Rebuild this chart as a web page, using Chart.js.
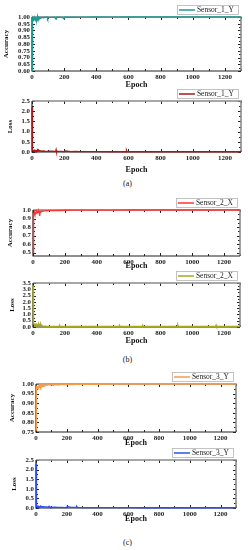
<!DOCTYPE html>
<html>
<head>
<meta charset="utf-8">
<script src="https://cdn.jsdelivr.net/npm/chart.js@4.4.0/dist/chart.umd.min.js"></script>
<style>
body { margin: 0; background: #fff; width: 248px; height: 550px; position: relative; overflow: hidden; }
canvas { position: absolute; left: 0; }
.cap { position: absolute; left: 0; width: 255px; text-align: center; font: 8px "Liberation Serif", serif; line-height: 10px; color: #111; }
</style>
</head>
<body>
<canvas id="a1"></canvas>
<canvas id="a2"></canvas>
<div class="cap" style="top:179px">(a)</div>
<canvas id="b1"></canvas>
<canvas id="b2"></canvas>
<div class="cap" style="top:355px">(b)</div>
<canvas id="c1"></canvas>
<canvas id="c2"></canvas>
<div class="cap" style="top:538px">(c)</div>
<script>
// shared x axis
const xTicks = [0, 200, 400, 600, 800, 1000, 1200];

// (a) Sensor_1_Y
const a1Epoch = [0, 1, 2, 3, 4, 5, 6, 7, 9, 11, 13, 15, 17, 19, 21, 23, 25, 27, 29, 31, 33, 35, 37, 40, 43, 46, 50, 55, 60, 70, 80, 95, 97, 100, 120, 140, 150, 152, 170, 190, 200, 202, 215, 240, 270, 300, 350, 400, 500, 600, 700, 800, 900, 1000, 1100, 1200, 1300];
const a1Acc = [0.60, 0.88, 0.95, 0.975, 0.985, 0.975, 0.99, 0.98,
    0.99, 0.985, 0.995, 0.975, 0.99, 0.995,
    0.985, 0.995, 0.97, 0.99, 0.995,
    0.975, 0.995, 0.985, 0.997,
    0.98, 0.995, 0.99, 0.997,
    0.993, 0.998, 0.995, 0.998,
    0.998, 0.99, 0.998,
    0.997, 0.998, 0.985, 0.998,
    0.998, 0.997, 0.987, 0.998,
    0.998, 0.999, 0.998, 0.999,
    0.999, 1.0, 0.999, 1.0,
    1.0, 1.0, 1.0, 1.0,
    1.0, 1.0, 1.0];
const a1Ticks = [0.60, 0.65, 0.70, 0.75, 0.80, 0.85, 0.90, 0.95, 1.00];

const a2Epoch = [0, 1, 2, 3, 4, 5, 7, 9, 12, 15, 18, 21, 24, 27, 30, 33, 35, 37, 40, 45, 50, 60, 70, 80, 100, 120, 148, 150, 152, 180, 200, 210, 240, 270, 300, 400, 500, 585, 588, 591, 700, 800, 900, 1000, 1100, 1200, 1300];
const a2Loss = [2.2, 1.0, 0.4, 0.18, 0.12, 0.1,
    0.07, 0.09, 0.05, 0.08,
    0.05, 0.07, 0.04, 0.06,
    0.05, 0.08, 0.16, 0.06,
    0.1, 0.05, 0.06, 0.04,
    0.05, 0.04, 0.03, 0.04,
    0.03, 0.1, 0.03, 0.03,
    0.02, 0.05, 0.02, 0.03,
    0.02, 0.02, 0.01, 0.01,
    0.07, 0.01, 0.01, 0.01,
    0.01, 0.01, 0.01, 0.01, 0.01];
const a2Ticks = [0, 0.5, 1.0, 1.5, 2.0, 2.5];

// (b) Sensor_2_X
const b1Epoch = [0, 1, 2, 3, 4, 5, 6, 8, 10, 12, 14, 16, 18, 20, 22, 25, 28, 31, 34, 37, 40, 42, 44, 47, 50, 55, 60, 70, 80, 90, 100, 120, 140, 160, 180, 200, 250, 300, 400, 500, 600, 700, 800, 900, 1000, 1100, 1200, 1300];
const b1Acc = [0.5, 0.82, 0.9, 0.95, 0.94, 0.96, 0.955,
    0.965, 0.95, 0.97, 0.96,
    0.975, 0.965, 0.98, 0.97,
    0.985, 0.97, 0.98, 0.975,
    0.985, 0.97, 0.93, 0.98,
    0.99, 0.975, 0.99, 0.985,
    0.99, 0.993, 0.99, 0.995,
    0.993, 0.995, 0.996, 0.995,
    0.997, 0.998, 0.998, 0.999,
    0.999, 1.0, 1.0, 1.0,
    1.0, 1.0, 1.0, 1.0, 1.0];
const b1Ticks = [0.5, 0.6, 0.7, 0.8, 0.9, 1.0];

const b2Epoch = [0, 1, 2, 3, 4, 5, 7, 9, 11, 13, 15, 18, 21, 24, 27, 30, 33, 36, 39, 42, 45, 48, 52, 56, 60, 70, 80, 100, 130, 165, 168, 171, 200, 300, 400, 541, 544, 547, 600, 687, 690, 693, 740, 800, 907, 910, 913, 1000, 1100, 1147, 1150, 1153, 1200, 1300];
const b2Loss = [3.3, 1.5, 0.6, 0.35, 0.25, 0.3,
    0.2, 0.25, 0.15, 0.22,
    0.15, 0.2, 0.12, 0.18,
    0.13, 0.16, 0.12, 0.2,
    0.1, 0.15, 0.1, 0.22,
    0.09, 0.12, 0.08, 0.07,
    0.06, 0.05, 0.05, 0.05,
    0.11, 0.05, 0.04, 0.04,
    0.04, 0.04, 0.1, 0.04,
    0.04, 0.04, 0.1, 0.04,
    0.04, 0.04, 0.04, 0.14,
    0.04, 0.04, 0.04, 0.04,
    0.14, 0.04, 0.04, 0.04];
const b2Ticks = [0, 0.5, 1.0, 1.5, 2.0, 2.5, 3.0, 3.5];

// (c) Sensor_3_Y
const c1Epoch = [0, 1, 2, 3, 4, 5, 7, 9, 11, 13, 15, 17, 20, 23, 26, 30, 34, 38, 42, 46, 50, 55, 60, 70, 80, 90, 100, 110, 130, 150, 170, 200, 202, 230, 260, 290, 300, 350, 400, 500, 600, 700, 800, 900, 1000, 1100, 1200, 1300];
const c1Acc = [0.76, 0.93, 0.97, 0.98, 0.975, 0.985,
    0.98, 0.99, 0.985, 0.975,
    0.99, 0.985, 0.992, 0.98,
    0.993, 0.985, 0.995, 0.99,
    0.995, 0.988, 0.996, 0.99,
    0.996, 0.993, 0.997, 0.995,
    0.997, 0.993, 0.997, 0.996,
    0.998, 0.996, 0.998, 0.997,
    0.998, 0.998, 0.999, 0.999,
    0.999, 1.0, 1.0, 1.0,
    1.0, 1.0, 1.0, 1.0,
    1.0, 1.0];
const c1Ticks = [0.75, 0.80, 0.85, 0.90, 0.95, 1.00];

const c2Epoch = [0, 1, 2, 3, 4, 5, 8, 11, 14, 17, 20, 25, 30, 35, 40, 45, 50, 55, 60, 70, 80, 85, 90, 100, 120, 140, 160, 200, 203, 230, 260, 265, 270, 300, 400, 500, 600, 700, 800, 900, 1000, 1100, 1200, 1300];
const c2Loss = [2.3, 0.8, 0.25, 0.12, 0.1, 0.08,
    0.1, 0.07, 0.09, 0.06,
    0.08, 0.06, 0.1, 0.05,
    0.08, 0.06, 0.07, 0.05,
    0.06, 0.05, 0.04, 0.09,
    0.04, 0.03, 0.04, 0.03,
    0.03, 0.02, 0.07, 0.03,
    0.03, 0.08, 0.03, 0.02,
    0.02, 0.02, 0.02, 0.01,
    0.01, 0.01, 0.01, 0.01,
    0.01, 0.01];
const c2Ticks = [0, 0.5, 1.0, 1.5, 2.0, 2.5];

const serif = "'Liberation Serif', 'DejaVu Serif', serif";

// box round the plot, inward ticks on all four sides
const frameTicks = {
    id: "frameTicks",
    beforeDatasetsDraw(chart) {
        const { ctx, chartArea: a, scales } = chart;
        ctx.save();
        ctx.strokeStyle = "#222";
        ctx.lineWidth = 1;
        ctx.beginPath();
        for (let v = 0; v <= 1300; v += 100) {
            const px = Math.round(scales.x.getPixelForValue(v)) + 0.5;
            const len = v % 200 === 0 ? 3 : 2;
            ctx.moveTo(px, a.bottom); ctx.lineTo(px, a.bottom - len);
            ctx.moveTo(px, a.top); ctx.lineTo(px, a.top + len);
        }
        const yt = scales.y.ticks.map(t => t.value);
        yt.forEach((v, i) => {
            const py = Math.round(scales.y.getPixelForValue(v)) + 0.5;
            ctx.moveTo(a.left, py); ctx.lineTo(a.left + 3, py);
            ctx.moveTo(a.right, py); ctx.lineTo(a.right - 3, py);
            if (i < yt.length - 1) {
                const pm = Math.round(scales.y.getPixelForValue((v + yt[i + 1]) / 2)) + 0.5;
                ctx.moveTo(a.left, pm); ctx.lineTo(a.left + 2, pm);
                ctx.moveTo(a.right, pm); ctx.lineTo(a.right - 2, pm);
            }
        });
        ctx.stroke();
        // top and right in grey, left and bottom dark
        ctx.strokeStyle = "#8a8a8a";
        ctx.lineWidth = 1.6;
        ctx.beginPath();
        ctx.moveTo(a.left, a.top); ctx.lineTo(a.right, a.top); ctx.lineTo(a.right, a.bottom);
        ctx.stroke();
        ctx.strokeStyle = "#222";
        ctx.lineWidth = 1.2;
        ctx.beginPath();
        ctx.moveTo(a.left, a.top); ctx.lineTo(a.left, a.bottom); ctx.lineTo(a.right, a.bottom);
        ctx.stroke();
        ctx.restore();
    }
};

// small boxed legend sitting over the top right corner
const legendBox = {
    id: "legendBox",
    afterDraw(chart) {
        const { ctx, chartArea: a } = chart;
        const ds = chart.data.datasets[0];
        ctx.save();
        ctx.font = "7.5px " + serif;
        const tw = ctx.measureText(ds.label).width;
        const w = tw + 24, h = 9;
        const x = a.right - 3 - w, y = a.top - 3 - h;
        ctx.fillStyle = "#fff";
        ctx.fillRect(x, y, w, h);
        ctx.strokeStyle = "#b5b5b5";
        ctx.lineWidth = 0.8;
        ctx.strokeRect(x + 0.5, y + 0.5, w, h);
        ctx.strokeStyle = ds.borderColor;
        ctx.lineWidth = 1.5;
        ctx.beginPath();
        ctx.moveTo(x + 2, y + h / 2 + 0.5); ctx.lineTo(x + 18, y + h / 2 + 0.5);
        ctx.stroke();
        ctx.fillStyle = "#222";
        ctx.textBaseline = "middle";
        ctx.fillText(ds.label, x + 20, y + h / 2 + 1);
        ctx.restore();
    }
};

function buildChart(id, p) {
    const canvas = document.getElementById(id);
    const top = p.plotTop - 12;
    const h = p.epochY + 4 - top;
    canvas.style.top = top + "px";
    canvas.width = 248;
    canvas.height = h;
    const points = p.epochs.map((e, i) => ({ x: e, y: p.values[i] }));
    new Chart(canvas, {
        type: "line",
        data: {
            datasets: [{
                label: p.label,
                data: points,
                borderColor: p.color,
                borderWidth: 1.4,
                pointRadius: 0,
                tension: 0,
                clip: false,
            }],
        },
        options: {
            responsive: false,
            animation: false,
            layout: { padding: { top: 12, left: 0, right: 248 - p.right, bottom: 0 } },
            plugins: { legend: { display: false }, tooltip: { enabled: false } },
            scales: {
                x: {
                    type: "linear",
                    min: 0,
                    max: 1300,
                    afterBuildTicks: (s) => { s.ticks = xTicks.map(v => ({ value: v })); },
                    afterFit: (s) => { s.height = p.epochY + 4 - p.plotBottom; },
                    grid: { display: false, drawTicks: false },
                    border: { display: false },
                    ticks: {
                        autoSkip: false, maxRotation: 0, padding: 2, color: "#222",
                        font: { family: serif, size: 7, weight: "bold" },
                        callback: (v) => String(v),
                    },
                    title: { display: true, text: "Epoch", color: "#111", padding: 0, font: { family: serif, size: 8, weight: "bold", lineHeight: 1 } },
                },
                y: {
                    min: p.min,
                    max: p.max,
                    afterBuildTicks: (s) => { s.ticks = p.ticks.map(v => ({ value: v })); },
                    afterFit: (s) => { s.width = p.left; },
                    grid: { display: false, drawTicks: false },
                    border: { display: false },
                    ticks: {
                        autoSkip: false, padding: 2, color: "#222",
                        font: { family: serif, size: 6.8, weight: "bold" },
                        callback: (v) => Number(v).toFixed(p.digits),
                    },
                    title: { display: true, text: p.yTitle, color: "#111", padding: { top: p.yTitleX - 4, bottom: 0 }, font: { family: serif, size: 7, weight: "bold", lineHeight: 1.15 } },
                },
            },
        },
        plugins: [frameTicks, legendBox],
    });
}

buildChart("a1", { label: "Sensor_1_Y", color: "#1f9a93", epochs: a1Epoch, values: a1Acc, ticks: a1Ticks, min: 0.60, max: 1.00, digits: 2, yTitle: "Accuracy", plotTop: 17, plotBottom: 71, left: 32, right: 241, epochY: 85, yTitleX: 6.5 });
buildChart("a2", { label: "Sensor_1_Y", color: "#a81818", epochs: a2Epoch, values: a2Loss, ticks: a2Ticks, min: 0, max: 2.5, digits: 1, yTitle: "Loss", plotTop: 101, plotBottom: 152, left: 32, right: 241, epochY: 170, yTitleX: 10 });
buildChart("b1", { label: "Sensor_2_X", color: "#ff3434", epochs: b1Epoch, values: b1Acc, ticks: b1Ticks, min: 0.46, max: 1.0, digits: 1, yTitle: "Accuracy", plotTop: 210, plotBottom: 256, left: 33, right: 240, epochY: 266, yTitleX: 10 });
buildChart("b2", { label: "Sensor_2_X", color: "#a8a81a", epochs: b2Epoch, values: b2Loss, ticks: b2Ticks, min: 0, max: 3.5, digits: 1, yTitle: "Loss", plotTop: 283, plotBottom: 327, left: 33, right: 240, epochY: 341, yTitleX: 12 });
buildChart("c1", { label: "Sensor_3_Y", color: "#f99a45", epochs: c1Epoch, values: c1Acc, ticks: c1Ticks, min: 0.75, max: 1.0, digits: 2, yTitle: "Accuracy", plotTop: 384, plotBottom: 432, left: 36, right: 236, epochY: 443, yTitleX: 12 });
buildChart("c2", { label: "Sensor_3_Y", color: "#2a4dff", epochs: c2Epoch, values: c2Loss, ticks: c2Ticks, min: 0, max: 2.5, digits: 1, yTitle: "Loss", plotTop: 460, plotBottom: 508, left: 36, right: 236, epochY: 519, yTitleX: 14 });
</script>
</body>
</html>
